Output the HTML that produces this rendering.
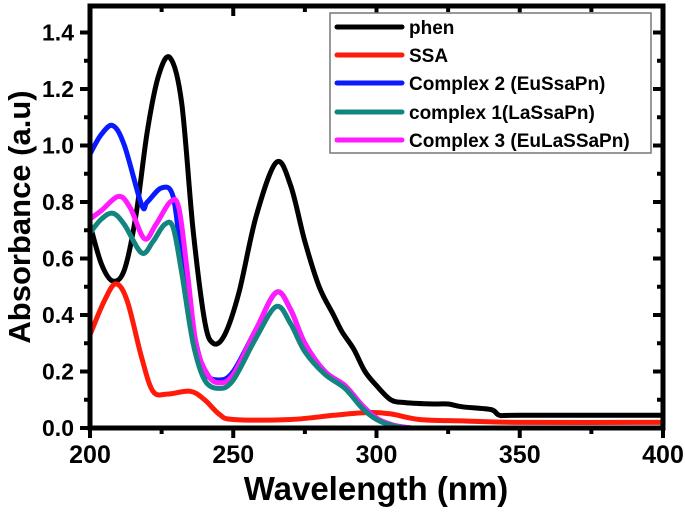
<!DOCTYPE html>
<html><head><meta charset="utf-8"><style>
html,body{margin:0;padding:0;background:#fff;}
svg text{font-family:"Liberation Sans",Arial,sans-serif;font-weight:bold;}
</style></head><body>
<svg id="chart" width="685" height="507" viewBox="0 0 685 507" xmlns="http://www.w3.org/2000/svg">
<g id="marks"></g>
<g id="axes"></g>
</svg>
<script>
const xTicks = [200, 250, 300, 350, 400];
const yTicks = [0.0, 0.2, 0.4, 0.6, 0.8, 1.0, 1.2, 1.4];
const seriesNames = ["phen", "SSA", "Complex 2 (EuSsaPn)", "complex 1(LaSsaPn)", "Complex 3 (EuLaSSaPn)"];
const seriesColors = ["#000000", "#ff1a0a", "#0a1aff", "#138580", "#ff1aff"];
const phenX = [200,204,208,212,216,220,224,228,232,236,240,243,247,252,258,265,270,275,280,285,288,292,296,300,305,310,320,325,330,340,343,350,400];
const phenY = [0.72,0.58,0.52,0.56,0.75,1.05,1.25,1.31,1.15,0.7,0.38,0.30,0.33,0.48,0.75,0.94,0.86,0.66,0.5,0.4,0.34,0.28,0.2,0.15,0.1,0.09,0.085,0.085,0.075,0.065,0.045,0.045,0.045];
const ssaX = [200,205,209,213,218,222,227,235,240,245,250,270,285,297,305,315,330,350,400];
const ssaY = [0.33,0.45,0.51,0.45,0.25,0.13,0.12,0.13,0.1,0.05,0.03,0.03,0.045,0.055,0.05,0.03,0.025,0.02,0.02];
const c2X = [200,204,208,212,218,220,225,229,232,236,240,245,250,258,265,270,275,282,289,295,300,305,312];
const c2Y = [0.97,1.04,1.07,1.0,0.79,0.8,0.85,0.82,0.6,0.35,0.2,0.17,0.2,0.35,0.48,0.42,0.3,0.2,0.15,0.08,0.035,0.01,0.0];
const c1X = [200,204,208,212,218,222,226,229,232,236,240,245,250,258,265,270,275,282,289,295,300,305,310];
const c1Y = [0.69,0.74,0.76,0.72,0.62,0.66,0.72,0.71,0.55,0.3,0.17,0.14,0.17,0.32,0.43,0.37,0.27,0.19,0.14,0.07,0.03,0.01,0.0];
const c3X = [200,204,210,214,219,223,228,231,234,237,241,245,250,258,265,270,275,282,289,295,300,306,312];
const c3Y = [0.74,0.77,0.82,0.78,0.67,0.72,0.8,0.78,0.55,0.3,0.19,0.16,0.19,0.35,0.48,0.42,0.3,0.2,0.15,0.08,0.035,0.01,0.0];

const L=90,R=663,T=6,B=428;
function sx(v){return L+(v-200)/(400-200)*(R-L);}
function sy2(v){return B-v/0.2*56.5;}
const NS="http://www.w3.org/2000/svg";
const marks=document.getElementById('marks'), axes=document.getElementById('axes');
function mk(tag,attrs,parent){const e=document.createElementNS(NS,tag);for(const k in attrs)e.setAttribute(k,attrs[k]);parent.appendChild(e);return e;}
function smooth(xs,ys){
  const p=xs.map((x,i)=>[sx(x),sy2(ys[i])]);
  let d="M"+p[0][0].toFixed(1)+","+p[0][1].toFixed(1);
  for(let i=0;i<p.length-1;i++){
    const p0=p[i-1]||p[i],p1=p[i],p2=p[i+1],p3=p[i+2]||p2;
    const c1=[p1[0]+(p2[0]-p0[0])/6,p1[1]+(p2[1]-p0[1])/6];
    const c2=[p2[0]-(p3[0]-p1[0])/6,p2[1]-(p3[1]-p1[1])/6];
    d+=" C"+c1[0].toFixed(1)+","+c1[1].toFixed(1)+" "+c2[0].toFixed(1)+","+c2[1].toFixed(1)+" "+p2[0].toFixed(1)+","+p2[1].toFixed(1);
  }
  return d;
}
const data=[[phenX,phenY],[ssaX,ssaY],[c2X,c2Y],[c3X,c3Y],[c1X,c1Y]];
const idx=[0,1,2,4,3];
const lineNames=['phen-line','ssa-line','complex2-line','complex3-line','complex1-line'];
data.forEach((s,i)=>{
  const p=mk('path',{d:smooth(s[0],s[1]),fill:'none',stroke:seriesColors[idx[i]],'stroke-width':5,'stroke-linejoin':'round','stroke-linecap':'round'},marks);
  
  
});
const fr=mk('rect',{x:L,y:T,width:R-L,height:B-T,fill:'none',stroke:'#000','stroke-width':5},axes);


for(let v=200;v<=400;v+=25){
  const major=v%50===0, x=sx(v), len=major?10:6;
  mk('line',{x1:x,y1:B,x2:x,y2:B+len,stroke:'#000','stroke-width':4},axes);
  mk('line',{x1:x,y1:T,x2:x,y2:T+len,stroke:'#000','stroke-width':4},axes);
}
xTicks.forEach(v=>{
  const t=mk('text',{x:sx(v),y:463,'text-anchor':'middle','font-size':25},axes);
  t.textContent=v;
  
  
});
for(let k=0;k<=14;k++){
  const v=k*0.1, y=sy2(v), major=k%2===0, len=major?10:6;
  mk('line',{x1:L,y1:y,x2:L-len,y2:y,stroke:'#000','stroke-width':4},axes);
  mk('line',{x1:R,y1:y,x2:R-len,y2:y,stroke:'#000','stroke-width':4},axes);
}
yTicks.forEach(v=>{
  const t=mk('text',{x:74,y:sy2(v)+8,'text-anchor':'end','font-size':23},axes);
  t.textContent=v.toFixed(1);
  
  
});
const xt=mk('text',{x:376,y:500,'text-anchor':'middle','font-size':33},axes);
xt.textContent='Wavelength (nm)';


const yt=mk('text',{x:0,y:0,'text-anchor':'middle','font-size':31,transform:'translate(30,217) rotate(-90)'},axes);
yt.textContent='Absorbance (a.u)';


const lg=mk('g',{},axes);


mk('rect',{x:330,y:13,width:321,height:140,fill:'#fff',stroke:'#777','stroke-width':1.5},lg);
const rowY=[27,55,83,112,140];
seriesNames.forEach((n,i)=>{
  const e=mk('g',{},lg);
  
  
  mk('line',{x1:337,y1:rowY[i],x2:402,y2:rowY[i],stroke:seriesColors[i],'stroke-width':5,'stroke-linecap':'round'},e);
  const t=mk('text',{x:409,y:rowY[i]+7,'font-size':19},e);
  t.textContent=n;
});
</script>
</body></html>
